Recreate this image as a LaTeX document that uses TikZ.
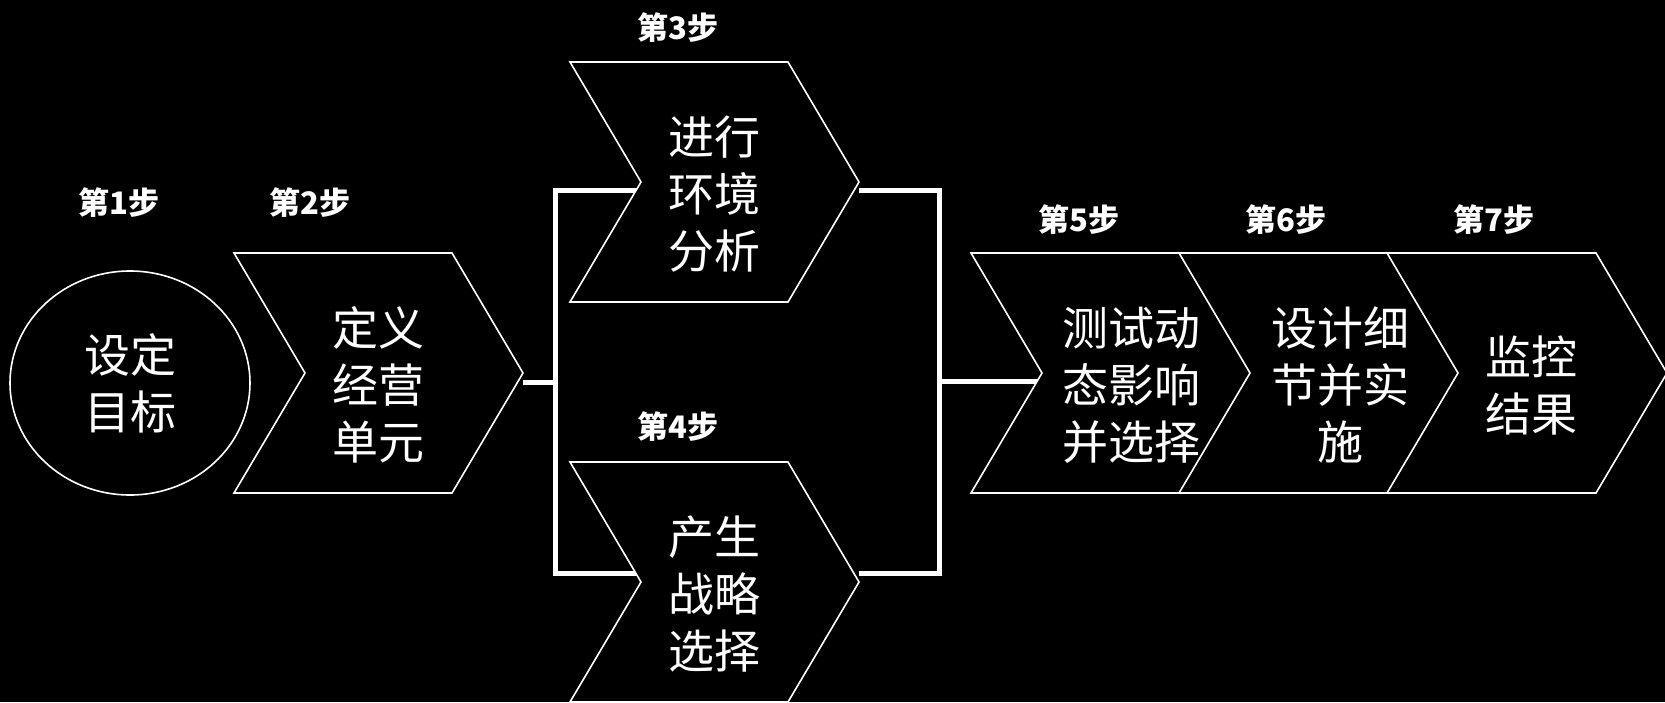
\documentclass[tikz,border=0pt]{standalone}
\usepackage{fontspec}
\newfontfamily\cjk{Noto Sans CJK SC}
\usetikzlibrary{shapes.geometric}

\pgfdeclarelayer{back}
\pgfsetlayers{back,main}

\tikzset{
  chevline/.style={draw=white, line width=1.6pt, fill=black, line join=miter},
  link/.style={white, line width=5pt, line join=miter},
  bigtext/.style={text=white, align=center, inner sep=0pt,
    font=\cjk\fontsize{46}{57}\selectfont},
  steplabel/.style={text=white, inner sep=0pt,
    font=\cjk\bfseries\fontsize{31}{31}\selectfont}
}

% chevron: name, left x, middle y, width, text shift, text
\newcommand\chev[6]{%
  \draw[chevline] (#2,#3-120) -- ++(#4-71,0) -- ++(71,120) -- ++(-71,120)
    -- ++(71-#4,0) -- ++(71,-120) -- cycle;
  \coordinate (#1 notch) at (#2+71,#3);
  \coordinate (#1 tip) at (#2+#4,#3);
  \node[bigtext] (#1) at (#2+#4/2+#5,#3+12) {#6};
}

\begin{document}
\begin{tikzpicture}[x=1pt,y=-1pt]
\useasboundingbox (0,0) rectangle (1665,702);
\begin{pgfonlayer}{back}
  \fill[black] (0,0) rectangle (1665,702);
\end{pgfonlayer}

% step 1 and 2
\node[bigtext, ellipse, draw=white, line width=1.6pt,
  minimum width=240pt, minimum height=224pt] (goal) at (130,383) {设定\\目标};
\chev{c2}{234}{373}{289}{0}{定义\\经营\\单元}

% steps 3 and 4 side by side
\chev{c3}{570}{182}{289}{0}{进行\\环境\\分析}
\chev{c4}{570}{582}{289}{0}{产生\\战略\\选择}

% steps 5 to 7
\chev{c5}{971}{373}{280}{20}{测试动\\态影响\\并选择}
\chev{c6}{1179}{373}{280}{21}{设计细\\节并实\\施}
\chev{c7}{1387}{373}{280}{4}{监控\\结果}

\node[steplabel] (s1) at (119,203) {第1步};
\node[steplabel] (s2) at (310,203) {第2步};
\node[steplabel] (s3) at (678,28) {第3步};
\node[steplabel] (s4) at (678,427) {第4步};
\node[steplabel] (s5) at (1079,220) {第5步};
\node[steplabel] (s6) at (1286,220) {第6步};
\node[steplabel] (s7) at (1494,220) {第7步};

% fork and merge lines, under the chevrons
\begin{pgfonlayer}{back}
  \coordinate (fork) at (555,382);
  \coordinate (merge) at (939,381);
  \draw[link] ([yshift=-9pt]c2 tip) -- (fork);
  \draw[link] ([yshift=-8pt]c3 notch) -| (fork) |- ([yshift=9pt]c4 notch);
  \draw[link] ([yshift=-8pt]c3 tip) -| (merge) |- ([yshift=9pt]c4 tip);
  \draw[link] (merge) -- ([yshift=-8pt]c5 notch);
\end{pgfonlayer}
\end{tikzpicture}
\end{document}
